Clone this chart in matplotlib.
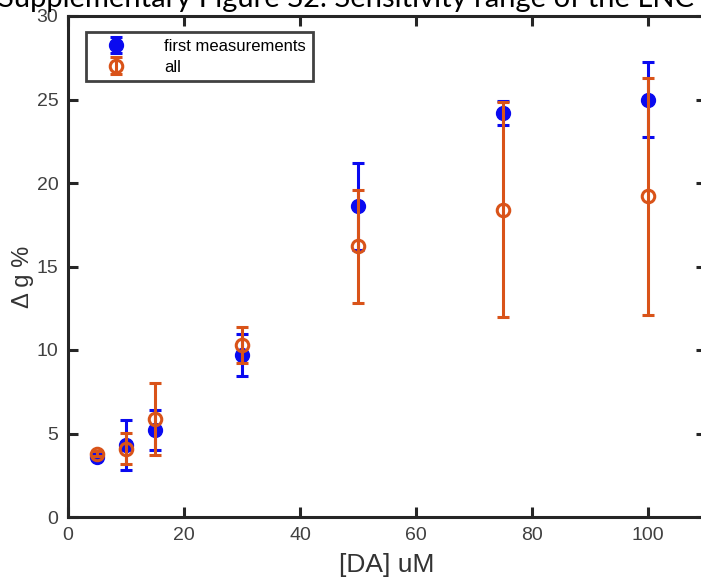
import matplotlib
matplotlib.use("Agg")
import matplotlib.pyplot as plt

conc = [5, 10, 15, 30, 50, 75, 100]
first_mean = [3.6, 4.3, 5.2, 9.7, 18.6, 24.2, 25.0]
first_err = [0.15, 1.5, 1.2, 1.25, 2.6, 0.7, 2.25]
all_mean = [3.8, 4.1, 5.85, 10.3, 16.2, 18.4, 19.2]
all_err = [0.15, 0.95, 2.15, 1.1, 3.4, 6.45, 7.1]

xticks = [0, 20, 40, 60, 80, 100]
yticks = [0, 5, 10, 15, 20, 25, 30]

BLUE = "#0a0af0"
ORANGE = "#d95319"

plt.rcParams['font.family'] = ['Liberation Sans', 'DejaVu Sans']

fig = plt.figure(figsize=(7.01, 5.82), dpi=100)
ax = fig.add_axes([68/701, (582-517)/582, (706-68)/701, (517-16)/582])

ax.errorbar(conc, first_mean, yerr=first_err, fmt='o', color=BLUE, ecolor=BLUE,
            markersize=10, elinewidth=2.2, capsize=4, capthick=2.2,
            markeredgecolor=BLUE, markerfacecolor=BLUE, label='first measurements', zorder=3)
ax.errorbar(conc, all_mean, yerr=all_err, fmt='o', color=ORANGE, ecolor=ORANGE,
            markersize=9, elinewidth=2.2, capsize=4, capthick=2.2,
            markeredgewidth=2.2, markerfacecolor='none', markeredgecolor=ORANGE,
            label='all', zorder=4)

ax.set_xlim(0, 110)
ax.set_ylim(0, 30)
ax.set_xticks(xticks)
ax.set_yticks(yticks)
for s in ax.spines.values():
    s.set_linewidth(2.2)
    s.set_color('#262626')
ax.tick_params(direction='in', length=7, width=2.2, top=True, right=True,
               labelsize=14, labelcolor='#404040', color='#262626', pad=7)
ax.set_xlabel('[DA] uM', fontsize=19, color='#333333', labelpad=7)
ax.set_ylabel('Δ g %', fontsize=17, color='#333333')
ax.yaxis.set_label_coords(-0.054, 0.48)

leg = ax.legend(loc='upper left', bbox_to_anchor=(18/638, 1 - 16/501), fontsize=12,
                frameon=True, fancybox=False, borderpad=0.4, borderaxespad=0,
                handletextpad=1.5, handlelength=2.8, labelspacing=0.35)
leg.get_frame().set_edgecolor('#111111')
leg.get_frame().set_linewidth(2)

fig.text(-2, 582 - 7, 'Supplementary Figure S2. Sensitivity range of the LNC',
         transform=None, fontsize=21, family=['Lato', 'DejaVu Sans'],
         va='baseline', ha='left', color='black')

fig.savefig('out.png', dpi=100)
